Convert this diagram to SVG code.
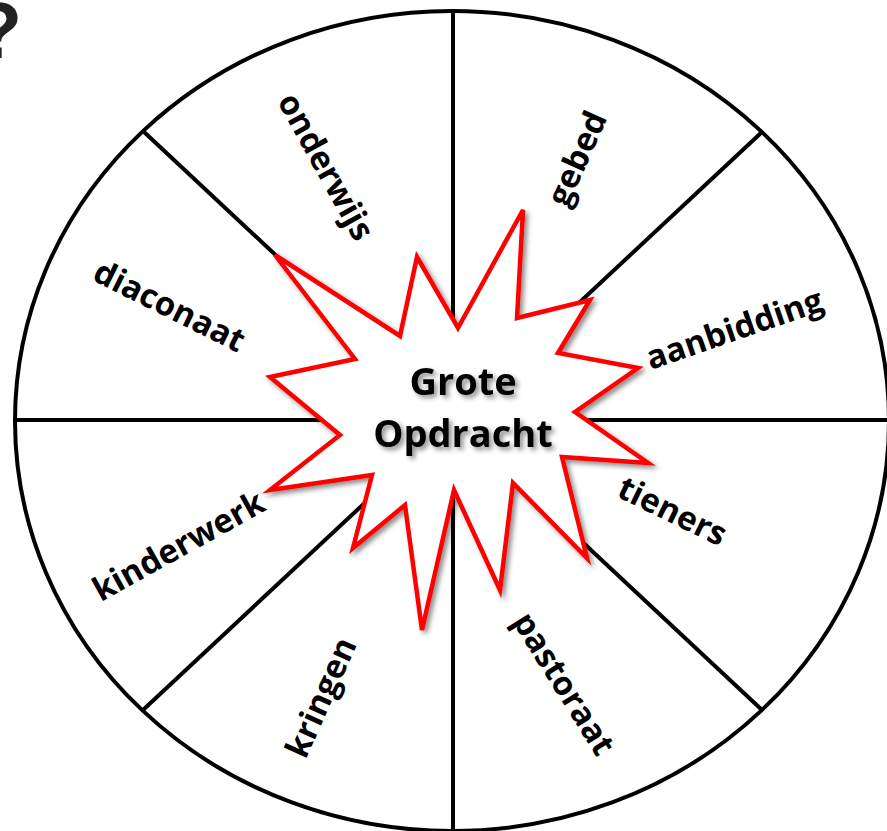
<svg xmlns="http://www.w3.org/2000/svg" width="887" height="831" viewBox="0 0 887 831">
<defs>
<style>
.lbl{font-family:"Open Sans","Liberation Sans",sans-serif;font-weight:700;font-size:33px;fill:#000;text-anchor:middle;dominant-baseline:central}
.spoke{stroke:#000;stroke-width:4;fill:none}
.ctr{font-family:"Open Sans","Liberation Sans",sans-serif;font-weight:700;font-size:38px;fill:#000;text-anchor:middle}
</style>
<filter id="sh" x="-20%" y="-20%" width="140%" height="140%">
<feDropShadow dx="3" dy="3" stdDeviation="2.5" flood-color="#000" flood-opacity="0.45"/>
</filter>
</defs>
<rect width="887" height="831" fill="#fff"/>
<text x="22" y="58" font-family="Liberation Sans, sans-serif" font-weight="700" font-size="80" fill="#222" text-anchor="end">?</text>
<g id="wheel">
<ellipse cx="452" cy="421" rx="437" ry="410" fill="#fff" stroke="#000" stroke-width="4"/>
</g>
<g id="connectors">
<line class="spoke" x1="453" y1="11" x2="453" y2="831"/>
<line class="spoke" x1="15" y1="420" x2="889" y2="420"/>
<line class="spoke" x1="143" y1="131" x2="762" y2="710"/>
<line class="spoke" x1="762" y1="132" x2="143" y2="710"/>
</g>
<g id="center">
<polygon filter="url(#sh)" fill="#fff" stroke="#f00" stroke-width="4.5" stroke-linejoin="miter" points="417,257 458,328 523,210 517,318 590,300 558,353 638,368 575,412 648,463 562,457 587,558 513,483 500,590 454,490 422,630 405,505 353,548 372,475 270,490 340,435 270,377 355,359 275,255 400,336"/>
<g filter="url(#sh)">
<text class="ctr" x="463" y="395">Grote</text>
<text class="ctr" x="463" y="447">Opdracht</text>
</g>
</g>
<g id="onderwijs"><text class="lbl" transform="translate(327,166) rotate(61)">onderwijs</text></g>
<g id="gebed"><text class="lbl" transform="translate(576,158) rotate(-66)">gebed</text></g>
<g id="diaconaat"><text class="lbl" transform="translate(170,305) rotate(26.5)">diaconaat</text></g>
<g id="aanbidding"><text class="lbl" transform="translate(734,328) rotate(-19)">aanbidding</text></g>
<g id="tieners"><text class="lbl" transform="translate(673,510) rotate(26)">tieners</text></g>
<g id="kinderwerk"><text class="lbl" transform="translate(178,545) rotate(-29)">kinderwerk</text></g>
<g id="kringen"><text class="lbl" transform="translate(320,697) rotate(-66)">kringen</text></g>
<g id="pastoraat"><text class="lbl" transform="translate(565,683) rotate(58)">pastoraat</text></g>
</svg>
